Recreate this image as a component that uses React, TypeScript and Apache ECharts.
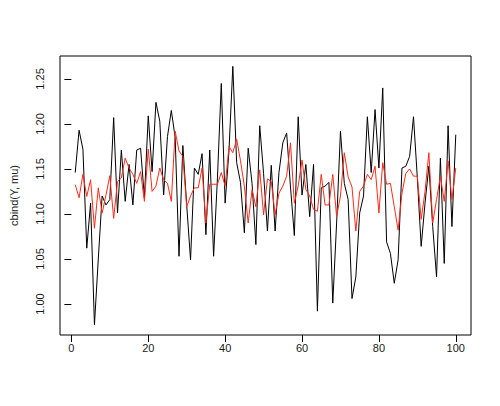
import React, { useEffect, useRef } from "react";
import * as echarts from "echarts";

const yValues: number[] = [
  1.146, 1.193, 1.172, 1.062, 1.112, 0.977, 1.05, 1.12, 1.11, 1.116,
  1.207, 1.101, 1.171, 1.114, 1.155, 1.11, 1.171, 1.173, 1.118, 1.209,
  1.147, 1.224, 1.203, 1.121, 1.186, 1.215, 1.185, 1.053, 1.176, 1.11,
  1.049, 1.151, 1.144, 1.167, 1.077, 1.171, 1.053, 1.14, 1.245, 1.112,
  1.17, 1.264, 1.157, 1.135, 1.079, 1.173, 1.134, 1.066, 1.198, 1.145,
  1.081, 1.154, 1.081, 1.146, 1.179, 1.19, 1.13, 1.076, 1.208, 1.121,
  1.155, 1.097, 1.155, 0.992, 1.129, 1.131, 1.135, 1.001, 1.09, 1.192,
  1.134, 1.116, 1.006, 1.03, 1.101, 1.12, 1.208, 1.146, 1.216, 1.151,
  1.24, 1.069, 1.056, 1.023, 1.049, 1.151, 1.153, 1.164, 1.208, 1.14,
  1.064, 1.112, 1.153, 1.086, 1.03, 1.162, 1.045, 1.198, 1.086, 1.188,
];

const muValues: number[] = [
  1.1325, 1.118, 1.144, 1.1195, 1.138, 1.084, 1.129, 1.101, 1.121, 1.1425,
  1.095, 1.136, 1.14, 1.162, 1.151, 1.144, 1.134, 1.147, 1.114, 1.172,
  1.125, 1.131, 1.151, 1.138, 1.134, 1.114, 1.192, 1.17, 1.164, 1.108,
  1.12, 1.129, 1.129, 1.151, 1.09, 1.133, 1.133, 1.133, 1.146, 1.131,
  1.175, 1.168, 1.183, 1.159, 1.131, 1.09, 1.127, 1.108, 1.149, 1.099,
  1.139, 1.136, 1.099, 1.123, 1.131, 1.142, 1.179, 1.112, 1.131, 1.16,
  1.127, 1.12, 1.105, 1.103, 1.144, 1.11, 1.11, 1.144, 1.097, 1.12,
  1.168, 1.141, 1.13, 1.081, 1.125, 1.131, 1.144, 1.138, 1.153, 1.101,
  1.157, 1.133, 1.134, 1.108, 1.082, 1.123, 1.145, 1.15, 1.142, 1.142,
  1.094, 1.125, 1.168, 1.09, 1.116, 1.142, 1.114, 1.159, 1.116, 1.151,
];

const xTicks: number[] = [0, 20, 40, 60, 80, 100];
const yTicks: number[] = [1.0, 1.05, 1.1, 1.15, 1.2, 1.25];
const yAxisTitle = "cbind(Y, mu)";

export default function App() {
  const ref = useRef<HTMLDivElement>(null);

  useEffect(() => {
    if (!ref.current) return;
    const chart = echarts.init(ref.current, null, { renderer: "svg" });
    const idx = yValues.map((_, i) => i + 1);
    const n = idx.length;
    const allVals = yValues.concat(muValues);
    const yMin = Math.min(...allVals);
    const yMax = Math.max(...allVals);
    const yPad = (yMax - yMin) * 0.04;
    const xPad = (n - 1) * 0.04;
    const font = "Liberation Sans, Arial, Helvetica, sans-serif";
    const textColor = "#1a1a1a";

    chart.setOption({
      animation: false,
      backgroundColor: "#ffffff",
      grid: {
        left: 56,
        right: 29,
        top: 56,
        bottom: 71,
        show: true,
        borderColor: "#000000",
        borderWidth: 1,
        backgroundColor: "transparent",
      },
      xAxis: {
        type: "value",
        min: 1 - xPad,
        max: n + xPad,
        splitLine: { show: false },
        axisLine: { show: false },
        axisTick: {
          show: true,
          inside: false,
          length: 7,
          customValues: xTicks,
          lineStyle: { color: "#000000", width: 1 },
        },
        axisLabel: {
          show: true,
          customValues: xTicks,
          margin: 7,
          color: textColor,
          fontSize: 11,
          fontFamily: font,
          formatter: (v: number) => String(v),
        },
      },
      yAxis: {
        type: "value",
        min: yMin - yPad,
        max: yMax + yPad,
        splitLine: { show: false },
        axisLine: { show: false },
        name: yAxisTitle,
        nameLocation: "middle",
        nameGap: 41,
        nameRotate: 90,
        nameTextStyle: {
          color: textColor,
          fontSize: 11,
          fontFamily: font,
        },
        axisTick: {
          show: true,
          inside: false,
          length: 7,
          customValues: yTicks,
          lineStyle: { color: "#000000", width: 1 },
        },
        axisLabel: {
          show: true,
          customValues: yTicks,
          rotate: 90,
          margin: 15,
          color: textColor,
          fontSize: 11,
          fontFamily: font,
          formatter: (v: number) => v.toFixed(2),
        },
      },
      series: [
        {
          type: "line",
          name: "Y",
          data: idx.map((x, i) => [x, yValues[i]]),
          showSymbol: false,
          lineStyle: { color: "#000000", width: 1 },
          itemStyle: { color: "#000000" },
        },
        {
          type: "line",
          name: "mu",
          data: idx.map((x, i) => [x, muValues[i]]),
          showSymbol: false,
          lineStyle: { color: "#ff2a1a", width: 1 },
          itemStyle: { color: "#ff2a1a" },
        },
      ],
    });

    return () => chart.dispose();
  }, []);

  return <div ref={ref} style={{ width: 500, height: 406, margin: -8 }} />;
}
